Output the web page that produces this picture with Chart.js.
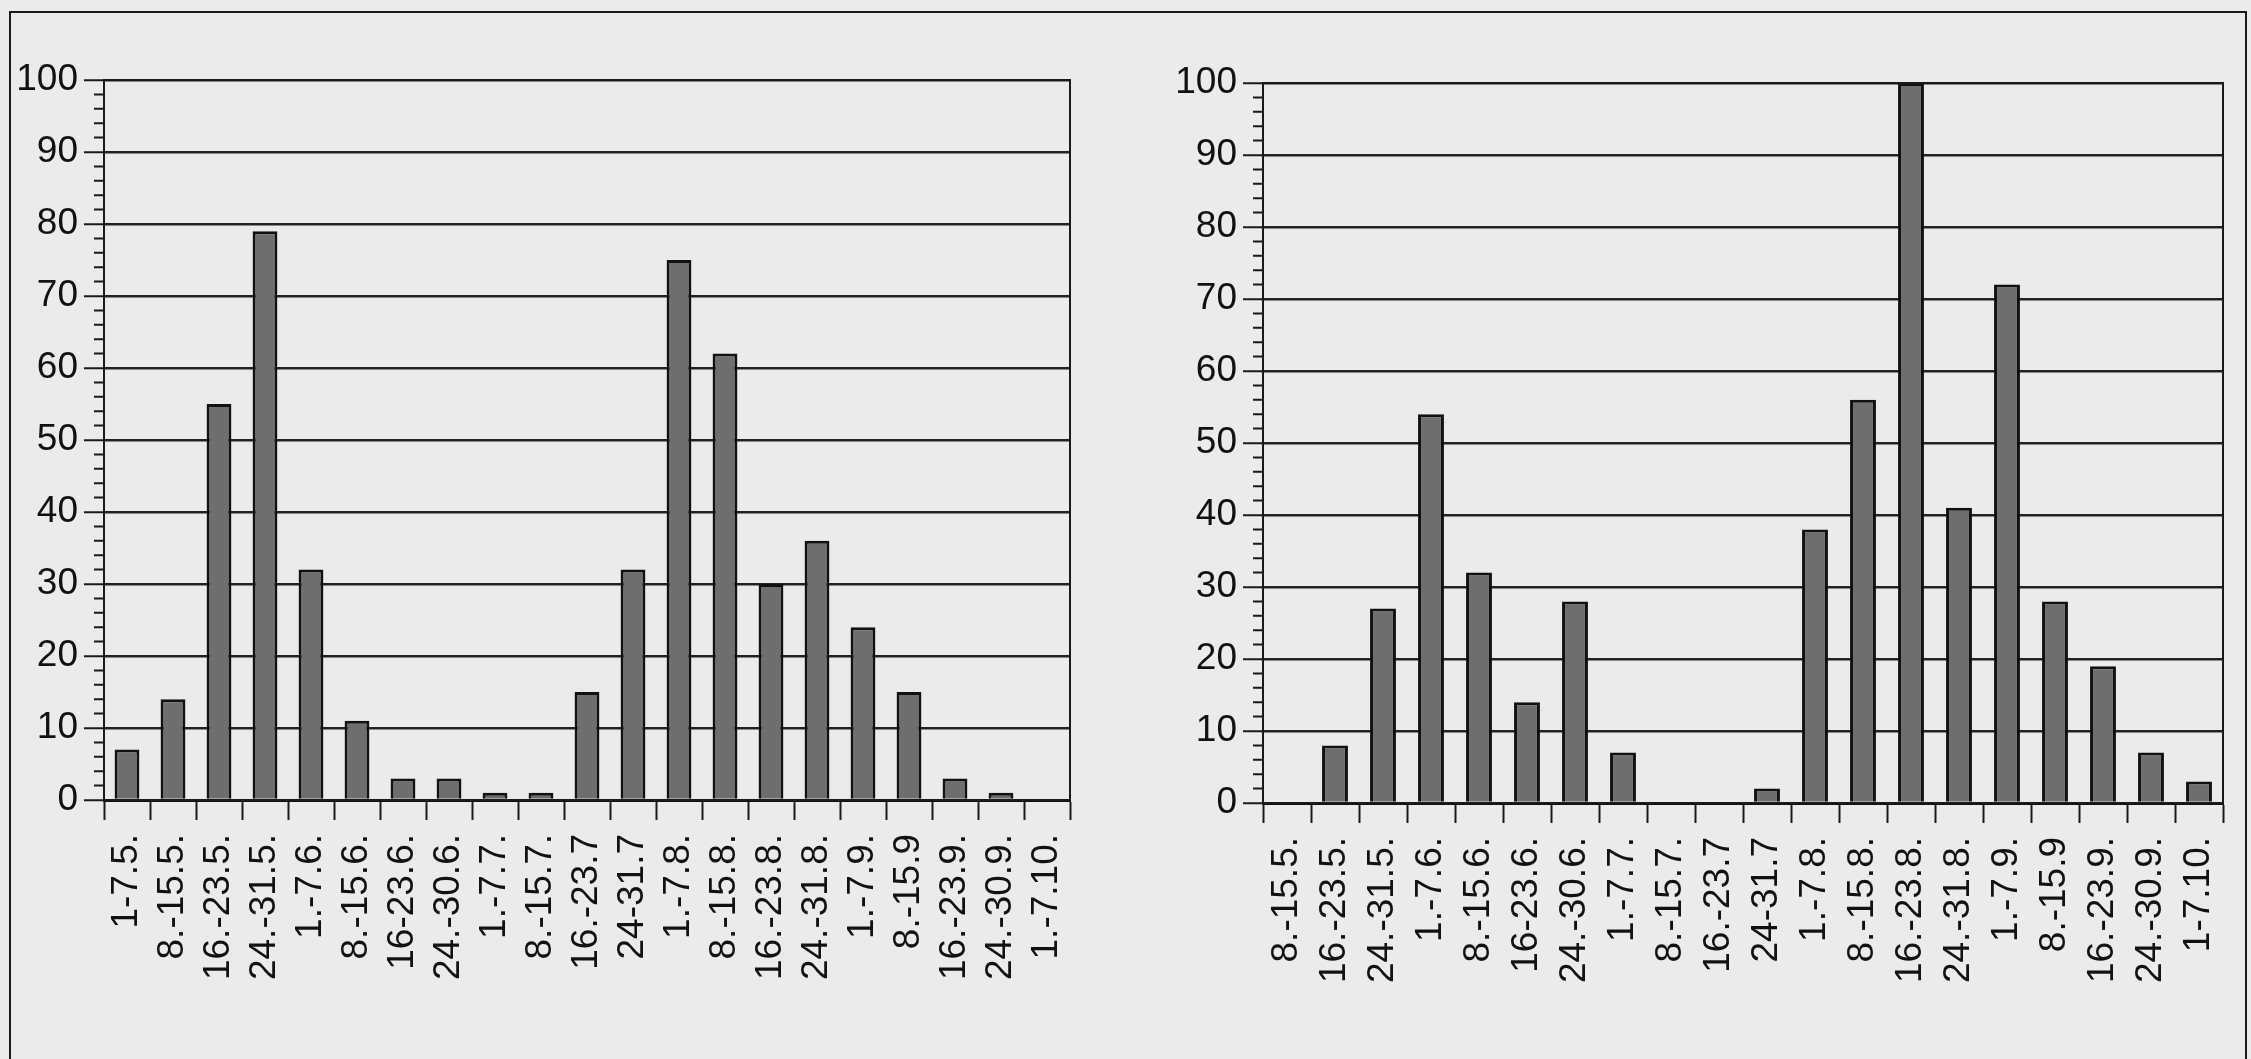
<!DOCTYPE html>
<html>
<head>
<meta charset="utf-8">
<script src="https://cdn.jsdelivr.net/npm/chart.js@4/dist/chart.umd.min.js"></script>
<style>
    html, body { margin: 0; padding: 0; background: #ebebeb; width: 2251px; height: 1059px; overflow: hidden; }
    #frame { position: absolute; left: 9px; top: 11px; width: 2234px; height: 1100px; border: 2px solid #1a1a1a; border-bottom: none; }
    canvas { position: absolute; top: 0; }
    #leftChart { left: 0; }
    #rightChart { left: 1090px; }
</style>
</head>
<body>
<div id="frame"></div>
<canvas id="leftChart" width="1090" height="1059"></canvas>
<canvas id="rightChart" width="1161" height="1059"></canvas>
<script>
// 左のグラフ
const leftLabels = ["1-7.5.", "8.-15.5.", "16.-23.5.", "24.-31.5.", "1.-7.6.", "8.-15.6.", "16-23.6.", "24.-30.6.",
    "1.-7.7.", "8.-15.7.", "16.-23.7", "24-31.7", "1.-7.8.", "8.-15.8.", "16.-23.8.", "24.-31.8.",
    "1.-7.9.", "8.-15.9", "16.-23.9.", "24.-30.9.", "1.-7.10."];
const leftValues = [7, 14, 55, 79, 32, 11, 3, 3, 1, 1, 15, 32, 75, 62, 30, 36, 24, 15, 3, 1, 0];

// 右のグラフ
const rightLabels = ["8.-15.5.", "16.-23.5.", "24.-31.5.", "1.-7.6.", "8.-15.6.", "16-23.6.", "24.-30.6.",
    "1.-7.7.", "8.-15.7.", "16.-23.7", "24-31.7", "1.-7.8.", "8.-15.8.", "16.-23.8.", "24.-31.8.",
    "1.-7.9.", "8.-15.9", "16.-23.9.", "24.-30.9.", "1-7.10."];
const rightValues = [0, 8, 27, 54, 32, 14, 28, 7, 0, 0, 2, 38, 56, 100, 41, 72, 28, 19, 7, 3];

// y軸の目盛り
const yMin = 0;
const yMax = 100;
const yStep = 10;
const yMinorStep = 2;

const fontFamily = '"Liberation Sans", Arial, Helvetica, sans-serif';
const ink = "#1a1a1a";

// 枠線と補助目盛りを描くプラグイン
const plotFrame = {
    id: "plotFrame",
    afterDraw(chart) {
        const { ctx, chartArea: a, scales: { y } } = chart;
        ctx.save();
        ctx.strokeStyle = ink;
        ctx.lineWidth = 2;
        ctx.strokeRect(a.left, a.top, a.right - a.left, a.bottom - a.top);
        ctx.beginPath();
        for (let v = yMin; v <= yMax; v += yMinorStep) {
            if (v % yStep === 0) continue;
            const py = y.getPixelForValue(v);
            ctx.moveTo(a.left - 10, py);
            ctx.lineTo(a.left, py);
        }
        ctx.stroke();
        ctx.restore();
    },
};

function makeChart(id, labels, values, geom) {
    const ctx = document.getElementById(id).getContext("2d");
    return new Chart(ctx, {
        type: "bar",
        data: {
            labels: labels,
            datasets: [{
                data: values,
                backgroundColor: "#6e6e6e",
                borderColor: "#111",
                borderWidth: 3,
                borderSkipped: "bottom",
                barPercentage: 0.54,
                categoryPercentage: 1.0,
            }],
        },
        options: {
            responsive: false,
            animation: false,
            layout: { padding: { top: geom.top, right: geom.right, left: 0, bottom: 0 } },
            plugins: { legend: { display: false }, tooltip: { enabled: false } },
            scales: {
                x: {
                    offset: true,
                    afterFit: (scale) => {
                        scale.height = geom.xHeight;
                        scale.paddingLeft = 0;
                        scale.paddingRight = 0;
                    },
                    grid: {
                        offset: true,
                        drawOnChartArea: false,
                        tickLength: 20,
                        tickWidth: 2,
                        tickColor: ink,
                    },
                    border: { color: "#111", width: 3 },
                    ticks: {
                        autoSkip: false,
                        minRotation: 90,
                        maxRotation: 90,
                        padding: 14,
                        color: "#111",
                        font: { family: fontFamily, size: 37 },
                    },
                },
                y: {
                    min: yMin,
                    max: yMax,
                    afterFit: (scale) => { scale.width = geom.yWidth; },
                    grid: {
                        color: "#222",
                        lineWidth: 2.5,
                        tickLength: 20,
                        tickColor: ink,
                        tickWidth: 2,
                    },
                    border: { color: ink, width: 2 },
                    ticks: {
                        stepSize: yStep,
                        padding: 6,
                        color: "#111",
                        font: { family: fontFamily, size: 37 },
                    },
                },
            },
        },
        plugins: [plotFrame],
    });
}

makeChart("leftChart", leftLabels, leftValues, { top: 80, right: 20, yWidth: 104, xHeight: 259 });
makeChart("rightChart", rightLabels, rightValues, { top: 83, right: 28, yWidth: 173, xHeight: 256 });
</script>
</body>
</html>
